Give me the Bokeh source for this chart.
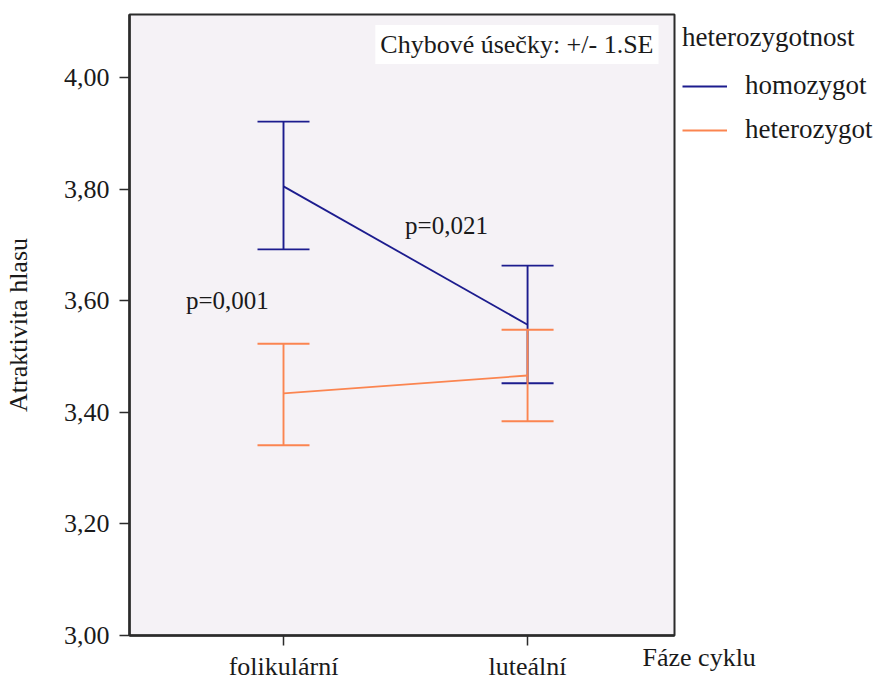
from bokeh.plotting import figure
from bokeh.models import (ColumnDataSource, Whisker, TeeHead, Legend, LegendItem,
                          Label, FixedTicker, CustomJSTickFormatter, Range1d)
from bokeh.embed import file_html
from bokeh.resources import INLINE

# ---- data ----
phases = ["folikulární", "luteální"]
phase_pos = [1, 2]
groups = ["homozygot", "heterozygot"]
homo_mean = [3.805, 3.557]
homo_upper = [3.921, 3.663]
homo_lower = [3.692, 3.452]
hetero_mean = [3.434, 3.466]
hetero_upper = [3.523, 3.548]
hetero_lower = [3.341, 3.384]
y_ticks = [3.0, 3.2, 3.4, 3.6, 3.8, 4.0]
colors = ["#1c1c8e", "#fb8550"]

FONT = "Liberation Serif"
TXT = "#1a1a1a"
FS = "26px"

p = figure(frame_width=545, frame_height=621, output_backend="svg", toolbar_location=None,
           x_range=Range1d(0.369, 2.602), y_range=Range1d(3.0, 4.113),
           min_border_left=127, min_border_right=213, min_border_top=14,
           min_border_bottom=45)
p.background_fill_color = "#f5f2f6"
p.border_fill_color = "white"
p.outline_line_color = "#2b2b2b"
p.outline_line_width = 2
p.xgrid.visible = False
p.ygrid.visible = False

renderers = []
for name, mean, up, lo, col in [(groups[0], homo_mean, homo_upper, homo_lower, colors[0]),
                                (groups[1], hetero_mean, hetero_upper, hetero_lower, colors[1])]:
    src = ColumnDataSource(dict(x=phase_pos, mean=mean, upper=up, lower=lo))
    r = p.line("x", "mean", source=src, line_color=col, line_width=1.8)
    renderers.append((name, r))
    w = Whisker(base="x", upper="upper", lower="lower", source=src, dimension="height",
                line_color=col, line_width=1.9,
                upper_head=TeeHead(size=52, line_color=col, line_width=1.9),
                lower_head=TeeHead(size=52, line_color=col, line_width=1.9))
    p.add_layout(w)

# axes
p.xaxis.ticker = FixedTicker(ticks=phase_pos)
p.xaxis.major_label_overrides = {1: phases[0], 2: phases[1]}
p.yaxis.ticker = FixedTicker(ticks=y_ticks)
p.yaxis.formatter = CustomJSTickFormatter(code="return tick.toFixed(2).replace('.', ',');")
for ax in (p.xaxis[0], p.yaxis[0]):
    ax.axis_line_color = "#2b2b2b"
    ax.axis_line_width = 2.5
    ax.major_tick_line_color = "#2b2b2b"
    ax.major_tick_line_width = 1.5
    ax.major_tick_out = 10
    ax.major_tick_in = 0
    ax.minor_tick_line_color = None
    ax.major_label_text_font = FONT
    ax.major_label_text_font_size = FS
    ax.major_label_text_color = TXT
p.yaxis.major_label_standoff = 10
p.xaxis.major_label_standoff = 6
p.yaxis.axis_label = "Atraktivita hlasu"
p.yaxis.axis_label_text_font = FONT
p.yaxis.axis_label_text_font_size = FS
p.yaxis.axis_label_text_font_style = "normal"
p.yaxis.axis_label_text_color = TXT
p.yaxis.axis_label_standoff = 28

# annotations
p.add_layout(Label(x=0.77, y=3.60, text="p=0,001", text_align="center", text_baseline="middle",
                   text_font=FONT, text_font_size="25px", text_color=TXT))
p.add_layout(Label(x=1.668, y=3.735, text="p=0,021", text_align="center", text_baseline="middle",
                   text_font=FONT, text_font_size="25px", text_color=TXT))
p.add_layout(Label(x=529, y=591, x_units="screen", y_units="screen",
                   text="Chybové úsečky: +/- 1.SE", text_align="right", text_baseline="middle",
                   text_font=FONT, text_font_size=FS, text_color=TXT,
                   background_fill_color="white", padding=5))
p.add_layout(Label(x=2.471, y=2.9606, text="Fáze cyklu", text_align="left",
                   text_baseline="middle", text_font=FONT, text_font_size=FS,
                   text_color=TXT), "below")

legend = Legend(items=[LegendItem(label=n, renderers=[r]) for n, r in renderers],
                title="heterozygotnost")
legend.title_text_font = FONT
legend.title_text_font_size = "27px"
legend.title_text_font_style = "normal"
legend.title_text_color = TXT
legend.title_standoff = 17
legend.label_text_font = FONT
legend.label_text_font_size = "27px"
legend.label_text_color = TXT
legend.label_standoff = 18
legend.glyph_width = 45
legend.glyph_height = 30
legend.label_height = 30
legend.spacing = 13
legend.border_line_color = None
legend.background_fill_alpha = 0
legend.margin = 8
legend.padding = 10
legend.location = "top_left"
p.add_layout(legend, "right")

open("out.html", "w").write(file_html(p, INLINE))
